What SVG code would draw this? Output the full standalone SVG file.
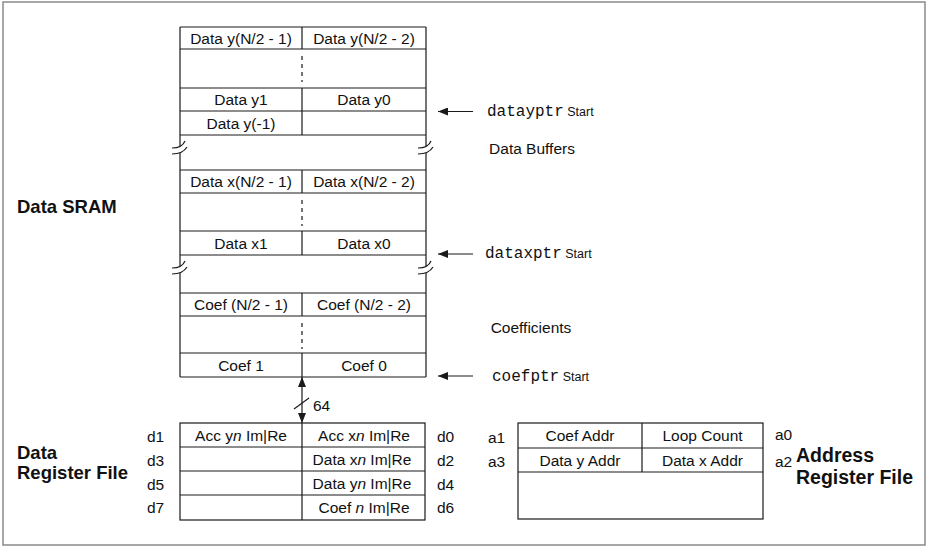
<svg xmlns="http://www.w3.org/2000/svg" width="926" height="546" viewBox="0 0 926 546">
  <style>
    .ln { stroke: #1a1a1a; stroke-width: 1.2; fill: none; }
    .dash { stroke: #1a1a1a; stroke-width: 1.2; stroke-dasharray: 4 4; fill: none; }
    .t { font-family: "Liberation Sans", Arial, sans-serif; font-size: 15.5px; fill: #111; }
    .c { text-anchor: middle; }
    .b { font-family: "Liberation Sans", Arial, sans-serif; font-size: 18.5px; font-weight: bold; fill: #111; }
    .bl { font-size: 19.5px; }
    .m { font-family: "Liberation Mono", "Courier New", monospace; font-size: 16px; fill: #111; }
    .s { font-family: "Liberation Sans", Arial, sans-serif; font-size: 12.5px; fill: #111; }
    .brk { stroke: #1a1a1a; stroke-width: 1.2; fill: none; }
  </style>
  <defs>
    <marker id="head" viewBox="0 0 10 8" refX="10" refY="4" markerWidth="10" markerHeight="8" markerUnits="userSpaceOnUse" orient="auto">
      <path d="M0,0 L10,4 L0,8 Z" fill="#1a1a1a"/>
    </marker>
    <!-- break symbol, centred on the vertical line at (0,0) -->
    <g id="break">
      <path class="brk" d="M-8,1 C-2,1 3,-1 5,-6"/>
      <path class="brk" d="M-8,7 C-2,7 4,5 7,0"/>
    </g>
  </defs>

  <rect x="3" y="2" width="922" height="543" fill="#fff" stroke="#8a8a8a" stroke-width="1.5"/>

  <!-- Data SRAM memory map -->
  <g id="sram">
    <!-- outer side walls, interrupted at the breaks -->
    <path class="ln" d="M180,27 V146 M180,153 V266 M180,273 V377 M426,27 V146 M426,153 V266 M426,273 V377"/>
    <use href="#break" x="180" y="147"/>
    <use href="#break" x="426" y="147"/>
    <use href="#break" x="180" y="267"/>
    <use href="#break" x="426" y="267"/>
    <!-- row boundaries -->
    <path class="ln" d="M180,27 H426 M180,49 H426 M180,88 H426 M180,111 H426 M180,135 H426
                        M180,170 H426 M180,193 H426 M180,231 H426 M180,255 H426
                        M180,293 H426 M180,316 H426 M180,353 H426 M180,377 H426"/>
    <!-- centre divider -->
    <path class="ln" d="M302,27 V49 M302,88 V135 M302,170 V193 M302,231 V255 M302,293 V316 M302,353 V377"/>
    <path class="dash" d="M302,56 V82 M302,200 V226 M302,323 V349"/>

    <text class="t c" x="241" y="43.5">Data y(N/2 - 1)</text>
    <text class="t c" x="364" y="43.5">Data y(N/2 - 2)</text>
    <text class="t c" x="241" y="105">Data y1</text>
    <text class="t c" x="364" y="105">Data y0</text>
    <text class="t c" x="241" y="128.5">Data y(-1)</text>

    <text class="t c" x="241" y="187">Data x(N/2 - 1)</text>
    <text class="t c" x="364" y="187">Data x(N/2 - 2)</text>
    <text class="t c" x="241" y="248.5">Data x1</text>
    <text class="t c" x="364" y="248.5">Data x0</text>

    <text class="t c" x="241" y="310">Coef (N/2 - 1)</text>
    <text class="t c" x="364" y="310">Coef (N/2 - 2)</text>
    <text class="t c" x="241" y="370.5">Coef 1</text>
    <text class="t c" x="364" y="370.5">Coef 0</text>
  </g>

  <g id="sram-label">
    <text class="b" x="17" y="213">Data SRAM</text>
  </g>

  <g id="region-labels">
    <text class="t c" x="532" y="154">Data Buffers</text>
    <text class="t c" x="531" y="333">Coefficients</text>
  </g>

  <g id="pointers">
    <text x="487" y="116"><tspan class="m">datayptr</tspan><tspan class="s"> Start</tspan></text>
    <text x="485" y="258"><tspan class="m">dataxptr</tspan><tspan class="s"> Start</tspan></text>
    <text x="492" y="381"><tspan class="m">coefptr</tspan><tspan class="s"> Start</tspan></text>
  </g>

  <!-- Data register file -->
  <g id="data-regs">
    <rect class="ln" x="180" y="423" width="245" height="97"/>
    <path class="ln" d="M180,447 H425 M180,471 H425 M180,495 H425 M302,423 V520"/>
    <text class="t c" x="241" y="441">Acc y<tspan font-style="italic">n</tspan> Im|Re</text>
    <text class="t c" x="364" y="441">Acc x<tspan font-style="italic">n</tspan> Im|Re</text>
    <text class="t c" x="362" y="465">Data x<tspan font-style="italic">n</tspan> Im|Re</text>
    <text class="t c" x="362" y="489">Data y<tspan font-style="italic">n</tspan> Im|Re</text>
    <text class="t c" x="364" y="513">Coef <tspan font-style="italic">n</tspan> Im|Re</text>
    <text class="t" x="147" y="442">d1</text>
    <text class="t" x="147" y="466">d3</text>
    <text class="t" x="147" y="490">d5</text>
    <text class="t" x="147" y="513">d7</text>
    <text class="t" x="437" y="442">d0</text>
    <text class="t" x="437" y="466">d2</text>
    <text class="t" x="437" y="490">d4</text>
    <text class="t" x="437" y="513">d6</text>
  </g>

  <g id="data-regs-label">
    <text class="b" x="17" y="459">Data</text>
    <text class="b" x="17" y="479">Register File</text>
  </g>

  <!-- Address register file -->
  <g id="addr-regs">
    <rect class="ln" x="518" y="423" width="245" height="96"/>
    <path class="ln" d="M518,448 H763 M518,472 H763 M642,423 V472"/>
    <text class="t c" x="580" y="441">Coef Addr</text>
    <text class="t c" x="702.5" y="441">Loop Count</text>
    <text class="t c" x="580" y="465.5">Data y Addr</text>
    <text class="t c" x="702.5" y="465.5">Data x Addr</text>
    <text class="t" x="488" y="443">a1</text>
    <text class="t" x="488" y="467">a3</text>
    <text class="t" x="775" y="440">a0</text>
    <text class="t" x="775" y="467">a2</text>
  </g>

  <g id="addr-regs-label">
    <text class="b bl" x="796" y="462">Address</text>
    <text class="b bl" x="796" y="484">Register File</text>
  </g>

  <g id="connectors">
    <line class="ln" x1="473" y1="111.5" x2="438" y2="111.5" marker-end="url(#head)"/>
    <line class="ln" x1="473" y1="254" x2="438" y2="254" marker-end="url(#head)"/>
    <line class="ln" x1="473" y1="376" x2="438" y2="376" marker-end="url(#head)"/>
    <!-- 64-bit bus between SRAM and data registers -->
    <line class="ln" x1="302" y1="400" x2="302" y2="377" marker-end="url(#head)"/>
    <line class="ln" x1="302" y1="400" x2="302" y2="423" marker-end="url(#head)"/>
    <line class="ln" x1="294" y1="409" x2="309" y2="398"/>
    <text class="t" x="313" y="411">64</text>
  </g>
</svg>
